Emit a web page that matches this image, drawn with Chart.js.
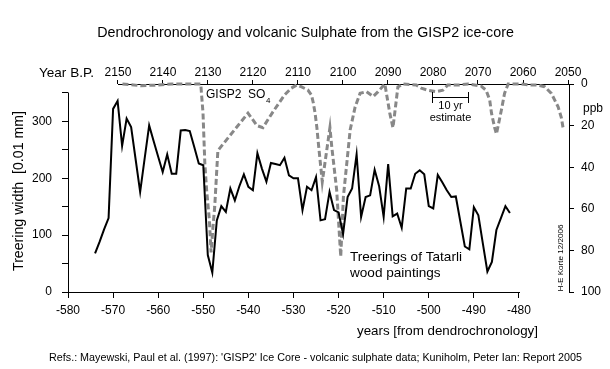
<!DOCTYPE html>
<html><head><meta charset="utf-8">
<script src="https://cdn.jsdelivr.net/npm/chart.js@4/dist/chart.umd.min.js"></script>
<style>html,body{margin:0;padding:0;background:#fff;overflow:hidden}canvas{display:block}</style>
</head><body>
<canvas id="c" width="610" height="369"></canvas>
<script>
// ---- data ----
const ringYears = [-574,-573,-572,-571,-570,-569,-568,-567,-566,-565,-564,-563,-562,-561,-560,-559,-558,-557,-556,-555,-554,-553,-552,-551,-550,-549,-548,-547,-546,-545,-544,-543,-542,-541,-540,-539,-538,-537,-536,-535,-534,-533,-532,-531,-530,-529,-528,-527,-526,-525,-524,-523,-522,-521,-520,-519,-518,-517,-516,-515,-514,-513,-512,-511,-510,-509,-508,-507,-506,-505,-504,-503,-502,-501,-500,-499,-498,-497,-496,-495,-494,-493,-492,-491,-490,-489,-488,-487,-486,-485,-484,-483,-482];
const ringWidths = [68,88,110,130,322,336,257,305,290,233,176,235,293,265,238,211,242,208,208,284,285,283,255,226,223,65,34,126,151,141,182,161,186,207,185,179,244,217,194,227,225,223,236,205,200,200,144,185,179,202,126,128,176,144,140,102,167,182,242,132,167,170,215,186,132,225,133,138,113,182,182,208,214,207,151,147,206,193,179,167,168,124,80,75,149,135,85,36,53,109,130,151,139];
const so4YearsBP = [2149,2145,2141,2138,2131.6,2131.1,2130.7,2130.3,2129.7,2129.3,2128.9,2128.5,2127.8,2121.1,2119.1,2117.8,2115.6,2113,2111.5,2110.3,2109.3,2107.8,2107,2106.6,2106.2,2105.8,2105.4,2104.6,2102.9,2102.5,2101.4,2100.5,2099.9,2098.4,2097.3,2096.2,2094.8,2093.3,2092.2,2090.7,2089.6,2088.9,2088.5,2087.8,2086.7,2083.7,2082.6,2081.1,2079.3,2077.8,2076.7,2074.4,2072.2,2069.3,2068.2,2067.4,2067,2066.3,2065.9,2064.8,2064.1,2063.3,2060.4,2058.5,2056.7,2055.2,2053.7,2052.2,2051.5,2051.1];
const so4Ppb = [0,0.8,0.5,0,0,14,38,51,65,81,69,59,32,14,20,21,13.5,5.3,2,0.5,1.3,2.9,5.3,9,14,21,30,47,21,30,51,83,54,22,11,4.5,3.7,6,3.7,0,14,21,14,1.4,0,0.5,2,3,3.7,3,0.5,0.5,0,1,3,7.7,14,21,24,12.5,4.5,0,0,0.5,0.5,1.3,4.5,11,16,21];

const yearTicks = [-580,-570,-560,-550,-540,-530,-520,-510,-500,-490,-480];
const bpTicks = [2150,2140,2130,2120,2110,2100,2090,2080,2070,2060,2050];
const widthTicks = [0,50,100,150,200,250,300,350];
const ppbTicks = [0,20,40,60,80,100];
const estimateBarBP = [2080.2, 2072.2];

// ---- texts ----
const TITLE = 'Dendrochronology and volcanic Sulphate from the GISP2 ice-core';
const REFS = "Refs.: Mayewski, Paul et al. (1997): 'GISP2' Ice Core - volcanic sulphate data; Kuniholm, Peter Ian: Report 2005";

const FAMILY = '"Liberation Sans", Arial, sans-serif';
const tickFont = {family: FAMILY, size: 12};

const ringPoints = ringYears.map((x, i) => ({x, y: ringWidths[i]}));
const so4Points = so4YearsBP.map((x, i) => ({x, y: so4Ppb[i]}));

function setTicks(values) { return s => { s.ticks = values.map(v => ({value: v})); }; }
function grid(len) { return {drawOnChartArea: false, drawTicks: true, tickLength: len, color: '#000', tickColor: '#000', lineWidth: 1}; }

function fitSize(ctx, text, width) {
  ctx.font = '100px ' + FAMILY;
  return 100 * width / ctx.measureText(text).width;
}
function txt(ctx, text, x, y, size, align, rot) {
  ctx.save();
  ctx.font = size.toFixed(2) + 'px ' + FAMILY;
  ctx.fillStyle = '#000';
  ctx.textAlign = align || 'left';
  ctx.textBaseline = 'middle';
  ctx.translate(x, y);
  if (rot) ctx.rotate(rot);
  ctx.fillText(text, 0, 0);
  ctx.restore();
}

const axisLines = {
  id: 'axisLines',
  beforeDatasetsDraw(chart) {
    const c = chart.ctx, s = chart.scales;
    c.save();
    c.strokeStyle = '#000'; c.lineWidth = 1;
    const L = Math.round(chart.chartArea.left) + 0.5, R = Math.round(chart.chartArea.right) + 0.5;
    const T = Math.round(chart.chartArea.top) + 0.5, B = Math.round(chart.chartArea.bottom) + 0.5;
    c.beginPath();
    c.moveTo(L, Math.round(s.y.getPixelForValue(350)) - 0.5); c.lineTo(L, B + 0.5);
    c.moveTo(L - 0.5, B); c.lineTo(Math.round(s.x.getPixelForValue(-480)) + 1, B);
    c.moveTo(Math.round(s.x2.getPixelForValue(2150)), T); c.lineTo(R + 0.5, T);
    c.moveTo(R, T - 0.5); c.lineTo(R, B + 0.5);
    c.stroke();
    c.restore();
  },
  afterDraw(chart) {
    const c = chart.ctx, s = chart.scales;
    txt(c, TITLE, 305.5, 33, fitSize(c, TITLE, 417), 'center');
    txt(c, 'Year B.P.', 94, 73, fitSize(c, 'Year B.P.', 55), 'right');
    txt(c, 'Treering width  [0.01 mm]', 19, 191, fitSize(c, 'Treering width  [0.01 mm]', 160), 'center', -Math.PI / 2);
    txt(c, 'years [from dendrochronology]', 538, 331, fitSize(c, 'years [from dendrochronology]', 181), 'right');
    txt(c, REFS, 315.5, 358, fitSize(c, REFS, 533), 'center');
    txt(c, 'ppb', 583, 109, 12, 'left');
    txt(c, 'H-E Korte 12/2006', 560.5, 258, fitSize(c, 'H-E Korte 12/2006', 67), 'center', -Math.PI / 2);
    txt(c, 'GISP2  SO', 206, 95, 12, 'left');
    txt(c, '4', 266, 101, 8, 'left');
    const ts = fitSize(c, 'Treerings of Tatarli', 112);
    txt(c, 'Treerings of Tatarli', 350, 257, ts, 'left');
    txt(c, 'wood paintings', 350, 273, ts, 'left');
    const a = Math.round(s.x2.getPixelForValue(estimateBarBP[0])) + 0.5;
    const b = Math.round(s.x2.getPixelForValue(estimateBarBP[1])) + 0.5;
    c.save(); c.strokeStyle = '#000'; c.lineWidth = 1;
    c.beginPath();
    c.moveTo(a, 92); c.lineTo(a, 103);
    c.moveTo(b, 92); c.lineTo(b, 103);
    c.moveTo(a, 97.5); c.lineTo(b, 97.5);
    c.stroke(); c.restore();
    txt(c, '10 yr', (a + b) / 2, 106, 11, 'center');
    txt(c, 'estimate', (a + b) / 2, 118, 11, 'center');
  }
};

new Chart(document.getElementById('c'), {
  type: 'line',
  data: {
    datasets: [
      {label: 'Treerings', data: ringPoints, xAxisID: 'x', yAxisID: 'y', borderColor: '#000', borderWidth: 2,
       pointRadius: 0, tension: 0, fill: false, borderJoinStyle: 'miter'},
      {label: 'GISP2 SO4', data: so4Points, xAxisID: 'x2', yAxisID: 'y2', borderColor: '#888888', borderWidth: 3,
       borderDash: [6, 3], pointRadius: 0, tension: 0, fill: false, clip: 5}
    ]
  },
  options: {
    responsive: false, animation: false, devicePixelRatio: 1,
    layout: {padding: 0},
    plugins: {legend: {display: false}, tooltip: {enabled: false}, title: {display: false}},
    scales: {
      x: {type: 'linear', position: 'bottom', min: -580, max: -468.9, bounds: 'data',
          afterBuildTicks: setTicks(yearTicks), afterFit: s => { s.height = 77; },
          ticks: {autoSkip: false, maxRotation: 0, padding: 5, font: tickFont, color: '#000', callback: v => String(v)},
          grid: grid(6), border: {display: false}},
      x2: {type: 'linear', position: 'top', reverse: true, min: 2049.78, max: 2161.1, bounds: 'data',
          afterBuildTicks: setTicks(bpTicks), afterFit: s => { s.height = 84; },
          ticks: {autoSkip: false, maxRotation: 0, padding: 0, font: tickFont, color: '#000', callback: v => String(v)},
          grid: grid(4), border: {display: false}},
      y: {type: 'linear', position: 'left', min: 0, max: 365.8, bounds: 'data',
          afterBuildTicks: setTicks(widthTicks), afterFit: s => { s.width = 68; },
          ticks: {autoSkip: false, padding: 10, font: tickFont, color: '#000', callback: v => (v % 100 === 0 ? String(v) : '')},
          grid: grid(6), border: {display: false}},
      y2: {type: 'linear', position: 'right', reverse: true, min: 0, max: 100, bounds: 'data',
          afterBuildTicks: setTicks(ppbTicks), afterFit: s => { s.width = 41; },
          ticks: {autoSkip: false, padding: 7, font: tickFont, color: '#000', callback: v => String(v)},
          grid: grid(5), border: {display: false}}
    }
  },
  plugins: [axisLines]
});
</script>
</body></html>
